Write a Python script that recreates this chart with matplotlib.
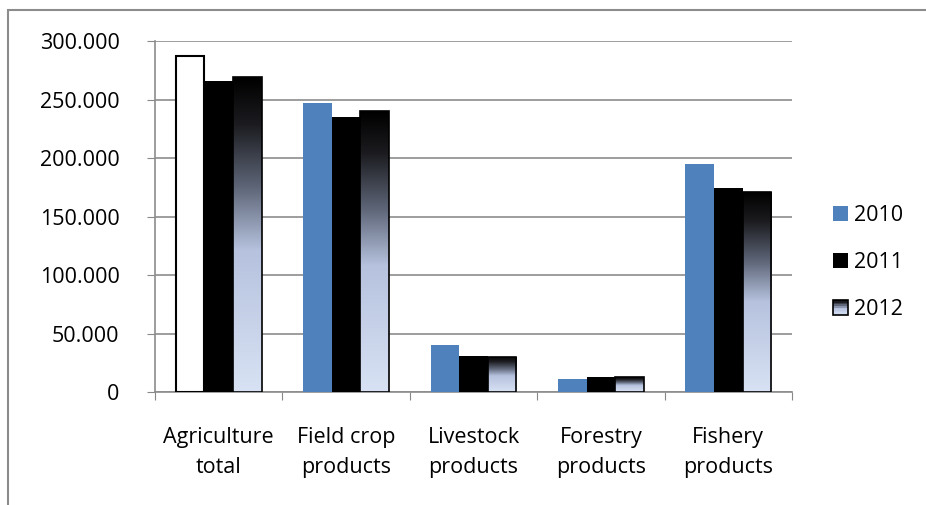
import matplotlib.pyplot as plt
import numpy as np
from matplotlib.colors import LinearSegmentedColormap
from matplotlib.patches import Rectangle
from matplotlib.legend_handler import HandlerPatch
from matplotlib.ticker import FuncFormatter, FixedLocator

plt.rcParams['font.family'] = ['Open Sans', 'DejaVu Sans']

categories = ['Agriculture\ntotal', 'Field crop\nproducts', 'Livestock\nproducts',
              'Forestry\nproducts', 'Fishery\nproducts']
years = ['2010', '2011', '2012']
v2010 = [287000, 247000, 40000, 11000, 195000]
v2011 = [266000, 235000, 31000, 12500, 174000]
v2012 = [269000, 240000, 30000, 12500, 171000]
yticks = [0, 50000, 100000, 150000, 200000, 250000, 300000]

BLUE = '#4F81BD'
FS = 15.5
grad = LinearSegmentedColormap.from_list('g', [(0, '#000000'), (0.15, '#1c1c20'),
                                               (0.35, '#5e6678'), (0.55, '#b6c2de'),
                                               (1, '#d8e2f4')])

fig = plt.figure(figsize=(9.26, 5.05), dpi=100)
ax = fig.add_axes([155/926, 1-392/505, (792-155)/926, (392-41)/505])

x = np.arange(len(categories))
w = 0.225
b1 = ax.bar(x - w, v2010, w, color=BLUE, zorder=3)
b2 = ax.bar(x, v2011, w, color='black', zorder=3)
b3 = ax.bar(x + w, v2012, w, color='none', edgecolor='black', linewidth=1.2, zorder=4)

# first 2010 bar is formatted white with black outline in the source
b1[0].set_facecolor('white')
b1[0].set_edgecolor('black')
b1[0].set_linewidth(1.5)

# gradient fill inside 2012 bars
g = np.linspace(0, 1, 256).reshape(-1, 1)
for bar in b3:
    x0, y0 = bar.get_x(), bar.get_y()
    im = ax.imshow(g, cmap=grad, aspect='auto', origin='upper',
                   extent=[x0, x0 + bar.get_width(), y0, y0 + bar.get_height()], zorder=3)
    im.set_clip_path(bar)

ax.set_xlim(-0.5, len(categories) - 0.5)
ax.set_ylim(0, 300000)
ax.set_yticks(yticks)
ax.yaxis.set_major_formatter(FuncFormatter(lambda v, p: f'{v:,.0f}'.replace(',', '.')))
ax.xaxis.set_major_locator(FixedLocator(np.arange(len(categories) + 1) - 0.5))
ax.xaxis.set_major_formatter(FuncFormatter(lambda v, p: ''))
ax.set_xticks(x, minor=True)
ax.set_xticklabels(categories, minor=True, fontsize=FS, linespacing=1.6)
ax.tick_params(axis='x', which='minor', length=0, pad=25)
ax.tick_params(axis='x', which='major', length=6, color='#888888', direction='out')
ax.tick_params(axis='y', which='major', length=6, color='#888888', labelsize=FS, pad=19.5)

ax.grid(axis='y', color='#8c8c8c', linewidth=1.2, zorder=0)
ax.set_axisbelow(True)
for s in ['top', 'right']:
    ax.spines[s].set_visible(False)
for s in ['left', 'bottom']:
    ax.spines[s].set_color('#8c8c8c')
    ax.spines[s].set_linewidth(1.2)


class GradHandler(HandlerPatch):
    def create_artists(self, legend, orig, xd, yd, width, height, fontsize, trans):
        arts = []
        n = 10
        for i in range(n):
            r = Rectangle((-xd, -yd + height * (n - 1 - i) / n), width, height / n,
                          facecolor=grad((i + 0.5) / n), edgecolor='none', transform=trans)
            arts.append(r)
        arts.append(Rectangle((-xd, -yd), width, height, facecolor='none',
                              edgecolor='black', linewidth=1.2, transform=trans))
        return arts


h1 = Rectangle((0, 0), 1, 1, facecolor=BLUE)
h2 = Rectangle((0, 0), 1, 1, facecolor='black')
h3 = Rectangle((0, 0), 1, 1, facecolor='none')
fig.legend([h1, h2, h3], years, loc='upper left', bbox_to_anchor=(814/926, 1-186/505),
           frameon=False, fontsize=FS, handlelength=0.7, handleheight=0.7,
           labelspacing=1.2, handletextpad=0.25,
           handler_map={h3: GradHandler()})

# outer chart frame (only left and top visible in the crop)
fig.patches.append(Rectangle((8/926, -0.2), 1.5, 1.2 - 10/505, transform=fig.transFigure,
                             facecolor='none', edgecolor='#8c8c8c', linewidth=1.5))

fig.savefig('out.png', dpi=100)
